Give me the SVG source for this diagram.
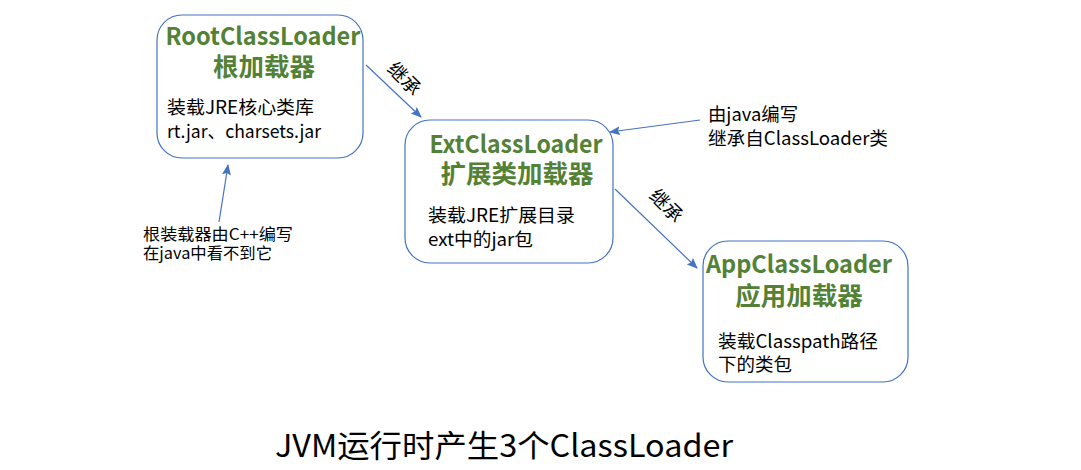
<svg xmlns="http://www.w3.org/2000/svg" width="1081" height="470" viewBox="0 0 1081 470">
<style>
.box{fill:#fff;stroke:#4472C4;stroke-width:1.2}
.t{font-family:"Noto Sans CJK SC","Noto Sans",sans-serif;font-weight:bold;font-size:24px;fill:#538135;text-anchor:middle}
.tc{font-family:"Noto Sans CJK SC","Noto Sans",sans-serif;font-weight:bold;font-size:25.5px;fill:#538135;text-anchor:middle}
.b{font-family:"Noto Sans CJK SC","Noto Sans",sans-serif;font-size:18.5px;fill:#000}
.s{font-family:"Noto Sans CJK SC","Noto Sans",sans-serif;font-size:16px;fill:#000}
.l{font-family:"Noto Sans CJK SC","Noto Sans",sans-serif;font-size:19px;fill:#000}
.c{stroke:#4472C4;stroke-width:1.2;fill:none;marker-end:url(#ah)}
</style>
<defs>
<marker id="ah" markerWidth="11" markerHeight="9" refX="10" refY="4.5" orient="auto" markerUnits="userSpaceOnUse">
<path d="M0,0 L11,4.5 L0,9 L2,4.5 Z" fill="#4472C4"/>
</marker>
</defs>
<rect width="1081" height="470" fill="#fff"/>
<g id="connectors">
<line class="c" x1="366" y1="65" x2="421" y2="117"/>
<line class="c" x1="700" y1="120" x2="610" y2="132"/>
<line class="c" x1="615" y1="189" x2="697" y2="268"/>
<line class="c" x1="219" y1="222" x2="228" y2="165"/>
<text class="l" transform="translate(386,70) rotate(45)">继承</text>
<text class="l" transform="translate(648,197) rotate(45)">继承</text>
</g>
<g id="root">
<rect class="box" x="157" y="15" width="206" height="143" rx="25"/>
<text class="t" x="263" y="45" textLength="195" lengthAdjust="spacingAndGlyphs">RootClassLoader</text>
<text class="tc" x="264" y="76">根加载器</text>
<text class="b" x="167" y="114" textLength="147" lengthAdjust="spacingAndGlyphs">装载JRE核心类库</text>
<text class="b" x="167" y="138" textLength="154" lengthAdjust="spacingAndGlyphs">rt.jar、charsets.jar</text>
</g>
<g id="ext">
<rect class="box" x="405" y="120" width="208" height="143" rx="25"/>
<text class="t" x="516" y="153" textLength="173" lengthAdjust="spacingAndGlyphs">ExtClassLoader</text>
<text class="tc" x="517" y="183">扩展类加载器</text>
<text class="b" x="428" y="222" textLength="147" lengthAdjust="spacingAndGlyphs">装载JRE扩展目录</text>
<text class="b" x="428" y="246" textLength="105" lengthAdjust="spacingAndGlyphs">ext中的jar包</text>
</g>
<g id="app">
<rect class="box" x="703" y="241" width="205" height="141" rx="25"/>
<text class="t" x="799" y="273" textLength="186" lengthAdjust="spacingAndGlyphs">AppClassLoader</text>
<text class="tc" x="799" y="305">应用加载器</text>
<text class="b" x="718" y="348" textLength="160" lengthAdjust="spacingAndGlyphs">装载Classpath路径</text>
<text class="b" x="718" y="371">下的类包</text>
</g>
<g id="note-java">
<text class="b" x="708" y="121" textLength="90" lengthAdjust="spacingAndGlyphs">由java编写</text>
<text class="b" x="708" y="145" textLength="180" lengthAdjust="spacingAndGlyphs">继承自ClassLoader类</text>
</g>
<g id="note-cpp">
<text class="s" x="143" y="240" textLength="150" lengthAdjust="spacingAndGlyphs">根装载器由C++编写</text>
<text class="s" x="143" y="259" textLength="129" lengthAdjust="spacingAndGlyphs">在java中看不到它</text>
</g>
<g id="title">
<text x="275" y="457" textLength="458" lengthAdjust="spacingAndGlyphs" style="font-family:'Noto Sans CJK SC','Noto Sans',sans-serif;font-size:31px;fill:#000">JVM运行时产生3个ClassLoader</text>
</g>
</svg>
